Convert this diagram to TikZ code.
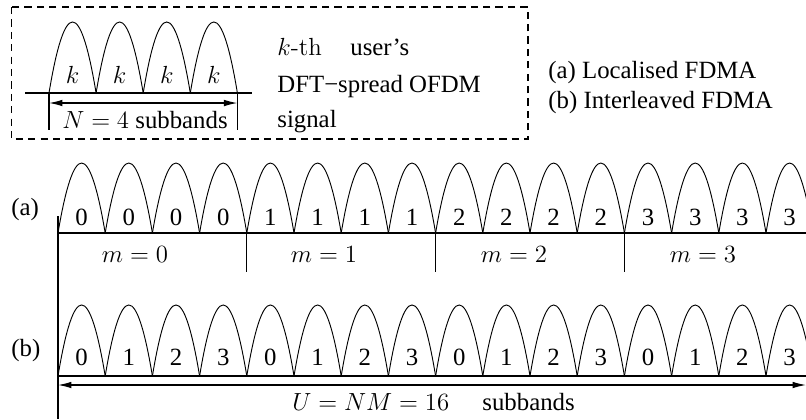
\documentclass[tikz,border=0pt]{standalone}
\usepackage{fontspec}
\setmainfont{Liberation Serif}
\usetikzlibrary{arrows.meta}
\begin{document}
\begin{tikzpicture}[x=0.484pt,y=-0.484pt,
  font=\fontsize{12}{14}\selectfont,
  lobe/.style={line width=0.45pt},
  axisline/.style={line width=0.7pt},
  tick/.style={line width=0.6pt},
  dimarrow/.style={line width=0.6pt,{Latex[length=6.5pt,width=3.2pt]}-{Latex[length=6.5pt,width=3.2pt]}},
  lbl/.style={anchor=base,inner sep=0pt},
  txt/.style={anchor=base west,inner sep=0pt}]
\useasboundingbox (0,0) rectangle (806,419);

% ---------- legend box ----------
\draw[line width=0.5pt,dash pattern=on 3.5pt off 2.5pt] (11.5,7) rectangle (528,139);
\draw[axisline] (25,93) -- (252,93);
\foreach \i in {0,...,3}{
  \pgfmathsetmacro\xa{49+47.1*\i}
  \pgfmathsetmacro\xb{\xa+47.1/3}
  \pgfmathsetmacro\xc{\xa+2*47.1/3}
  \pgfmathsetmacro\xd{\xa+47.1}
  \pgfmathsetmacro\xm{\xa+47.1/2}
  \draw[lobe] (\xa,93) .. controls (\xb,-1.7) and (\xc,-1.7) .. (\xd,93);
  \node[lbl] (k\i) at (\xm,83) {$k$};
}
\coordinate (la) at (49,103);
\coordinate (lb) at (237.4,103);
\draw[tick] (49,93) -- (49,130);
\draw[tick] (237.4,93) -- (237.4,130);
\draw[dimarrow] (la) -- (lb);
\node[lbl] (nsub) at (145,128) {$N=4$ subbands};
\node[txt] (kth) at (277,55) {{\fontfamily{lmr}\selectfont$k$-th}};
\node[txt] (user) at (350,55) {user's};
\node[txt] (dft) at (277,92) {DFT−spread OFDM};
\node[txt] (sig) at (277,127) {signal};
\node[txt] (loc) at (548,78) {(a) Localised FDMA};
\node[txt] (int) at (548,108) {(b) Interleaved FDMA};

% ---------- main rows ----------
\node[txt] (la-lab) at (11,215) {(a)};
\node[txt] (lb-lab) at (11,356) {(b)};

\draw[axisline] (58,233) -- (812,233);
\draw[axisline] (58,376) -- (812,376);
\draw[axisline] (58,216) -- (58,419);

\foreach \i in {0,...,15}{
  \pgfmathsetmacro\xa{58+47.2*\i}
  \pgfmathsetmacro\xb{\xa+47.2/3}
  \pgfmathsetmacro\xc{\xa+2*47.2/3}
  \pgfmathsetmacro\xd{\xa+47.2}
  \pgfmathsetmacro\xm{\xa+47.2/2}
  \pgfmathtruncatemacro\ma{int(\i/4)}
  \pgfmathtruncatemacro\mb{mod(\i,4)}
  \draw[lobe] (\xa,233) .. controls (\xb,139.7) and (\xc,139.7) .. (\xd,233);
  \draw[lobe] (\xa,376) .. controls (\xb,281.3) and (\xc,281.3) .. (\xd,376);
  \node[lbl] (da\i) at (\xm,225) {\ma};
  \node[lbl] (db\i) at (\xm,365) {\mb};
}

\draw[tick] (246.8,233) -- (246.8,272);
\draw[tick] (435.6,233) -- (435.6,272);
\draw[tick] (624.4,233) -- (624.4,272);
\node[lbl] (m0) at (135,262) {$m=0$};
\node[lbl] (m1) at (324,262) {$m=1$};
\node[lbl] (m2) at (514,262) {$m=2$};
\node[lbl] (m3) at (703,262) {$m=3$};

\coordinate (ua) at (58,385);
\coordinate (ub) at (806,385);
\draw[dimarrow] (ua) -- (ub);
\node[txt] (unm) at (292,410) {$U=NM=16$};
\node[txt] (usub) at (482,410) {subbands};
\end{tikzpicture}
\end{document}
